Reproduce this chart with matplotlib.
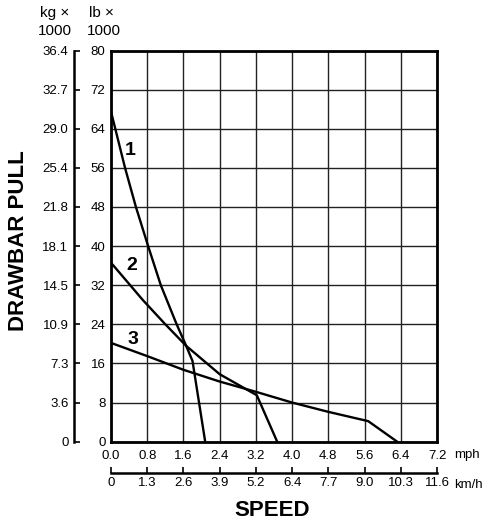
import matplotlib.pyplot as plt
import numpy as np

plt.rcParams['font.family'] = ['Liberation Sans', 'DejaVu Sans']

# speed (mph) / drawbar pull (lb x 1000)
gear1_mph = [0.0, 0.31, 0.55, 0.82, 1.10, 1.45, 1.66, 1.80, 2.08]
gear1_lb = [67.5, 56.0, 48.0, 40.0, 32.0, 24.0, 19.6, 16.5, 0.0]
gear2_mph = [0.0, 0.70, 1.20, 1.66, 2.40, 3.22, 3.67]
gear2_lb = [36.6, 29.0, 24.0, 19.6, 13.8, 9.5, 0.0]
gear3_mph = [0.0, 0.8, 1.6, 2.4, 3.2, 4.0, 4.8, 5.68, 6.32]
gear3_lb = [20.2, 17.5, 14.7, 12.3, 10.2, 8.0, 6.1, 4.2, 0.0]

mph_ticks = [0.0, 0.8, 1.6, 2.4, 3.2, 4.0, 4.8, 5.6, 6.4, 7.2]
kmh_labels = ['0', '1.3', '2.6', '3.9', '5.2', '6.4', '7.7', '9.0', '10.3', '11.6']
lb_ticks = [0, 8, 16, 24, 32, 40, 48, 56, 64, 72, 80]
kg_labels = ['0', '3.6', '7.3', '10.9', '14.5', '18.1', '21.8', '25.4', '29.0', '32.7', '36.4']

fig = plt.figure(figsize=(4.89, 5.25), dpi=100)
ax = fig.add_axes([0.227, 0.1587, 0.6667, 0.7451])

for xs, ys in [(gear1_mph, gear1_lb), (gear2_mph, gear2_lb), (gear3_mph, gear3_lb)]:
    ax.plot(xs, ys, color='black', lw=1.7, zorder=3)

ax.text(0.42, 59.6, '1', fontsize=14, fontweight='bold', ha='center', va='center')
ax.text(0.46, 36.0, '2', fontsize=14, fontweight='bold', ha='center', va='center')
ax.text(0.49, 20.8, '3', fontsize=14, fontweight='bold', ha='center', va='center')

ax.set_xlim(0, 7.2)
ax.set_ylim(0, 80)
ax.set_xticks(mph_ticks)
ax.set_xticklabels([f'{v:.1f}' for v in mph_ticks])
ax.set_yticks(lb_ticks)
ax.grid(True, color='#222222', lw=1.0)
ax.tick_params(axis='y', length=0, labelsize=9.5, pad=4)
ax.tick_params(axis='x', length=0, labelsize=9.5, pad=6)
for s in ax.spines.values():
    s.set_linewidth(2)

# km/h scale under the mph axis
sx = ax.secondary_xaxis(-0.08)
sx.set_xticks(mph_ticks)
sx.set_xticklabels(kmh_labels)
sx.tick_params(direction='in', length=4.5, width=1.2, labelsize=9.5, pad=3)
sx.spines['bottom'].set_linewidth(1.8)

# kg scale left of the lb axis
sy = ax.secondary_yaxis(-0.1135)
sy.set_yticks(lb_ticks)
sy.set_yticklabels(kg_labels)
sy.tick_params(direction='in', length=4.5, width=1.2, labelsize=9.5, pad=4)
sy.spines['left'].set_linewidth(1.8)

fig.text(467 / 489, 1 - 455 / 525, 'mph', fontsize=9.5, ha='center', va='center')
fig.text(468 / 489, 1 - 485 / 525, 'km/h', fontsize=9.5, ha='center', va='center')
fig.text(55 / 489, 1 - 13 / 525, 'kg \u00d7', fontsize=11, ha='center', va='center')
fig.text(55 / 489, 1 - 31 / 525, '1000', fontsize=11, ha='center', va='center')
fig.text(101 / 489, 1 - 13 / 525, 'lb \u00d7', fontsize=11, ha='center', va='center')
fig.text(104 / 489, 1 - 31 / 525, '1000', fontsize=11, ha='center', va='center')

fig.text(272 / 489, 1 - 511 / 525, 'SPEED', fontsize=16, fontweight='bold', ha='center', va='center')
fig.text(19 / 489, 1 - 241 / 525, 'DRAWBAR PULL', fontsize=16, fontweight='bold',
         ha='center', va='center', rotation=90)

fig.savefig('out.png', dpi=100)
